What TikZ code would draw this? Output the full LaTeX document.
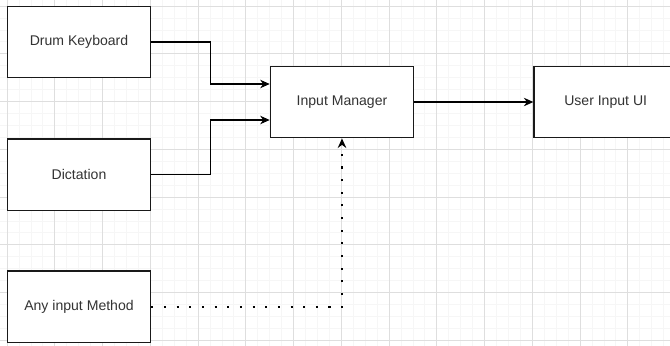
\documentclass[tikz,border=0pt]{standalone}
\usepackage{fontspec}
\setmainfont{Liberation Sans}
\usepackage{tikz}
\usetikzlibrary{arrows.meta,calc,positioning}
\definecolor{gridminor}{rgb}{0.965,0.965,0.965}
\definecolor{gridmajor}{rgb}{0.87,0.87,0.87}
\definecolor{textgrey}{rgb}{0.2,0.2,0.2}
\tikzset{
  caja/.style={
    draw=black!90,
    line width=0.8pt,
    fill=white,
    align=center,
    minimum width=2.865cm,
    minimum height=1.43cm,
    inner sep=4pt,
    text=textgrey,
    font=\fontsize{8}{9.6}\selectfont
  },
  arrow/.style={
    -{Stealth[length=1.9mm,width=1.7mm]},
    line width=0.6pt,
    black
  },
  puntos/.style={
    -{Stealth[length=1.9mm,width=1.7mm]},
    line width=1.2pt,
    dash pattern=on 1.2pt off 6pt,
    black
  }
}

\begin{document}
\begin{tikzpicture}[node distance=1.2cm]
\useasboundingbox (0,0) rectangle (13.4,-6.9);
\fill[white] (0,0) rectangle (13.4,-6.9);
\begin{scope}[shift={(0.14,-0.12)}]
\draw[gridminor,line width=0.4pt,step=0.23875cm] (-0.955,0.955) grid (14.3,-7.8);
\draw[gridmajor,line width=0.5pt,step=0.955cm] (-0.955,0.955) grid (14.3,-7.8);
\end{scope}
\node[caja] (drum) at (1.58,-0.84) {Drum Keyboard};
\node[caja,below=of drum] (dict) {Dictation};
\node[caja,below=1.18cm of dict] (any) {Any input Method};
\node[caja] (mgr) at (6.84,-2.04) {Input Manager};
\node[caja,right=2.38cm of mgr] (ui) {User Input UI};
\draw[arrow] (drum.east) -- ++(1.18,0) |- ([yshift=0.36cm]mgr.west);
\draw[arrow] (dict.east) -- ++(1.18,0) |- ([yshift=-0.36cm]mgr.west);
\draw[arrow] (mgr) -- (ui);
\draw[puntos] (any.east) -| (mgr.south);
\end{tikzpicture}
\end{document}
